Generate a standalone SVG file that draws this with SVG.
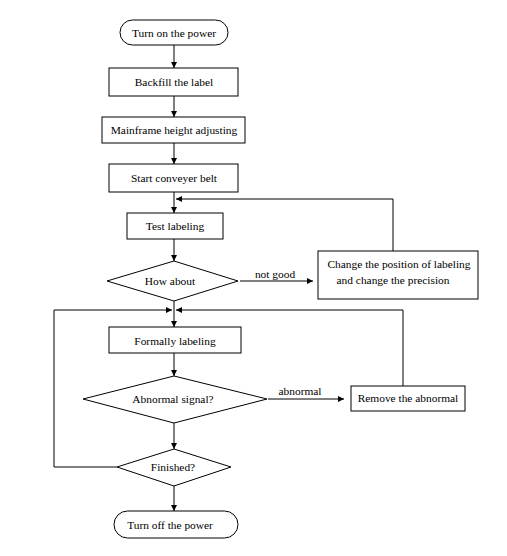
<svg xmlns="http://www.w3.org/2000/svg" width="507" height="556" viewBox="0 0 507 556">
<style>
.s{fill:#fff;stroke:#000;stroke-width:1}
.t{font-family:"Liberation Serif","Times New Roman",serif;font-size:11.4px;fill:#000;text-anchor:middle}
.c{fill:none;stroke:#000;stroke-width:1}
</style>
<defs>
<marker id="a" viewBox="0 0 10 10" refX="10" refY="5" markerWidth="8" markerHeight="6" markerUnits="userSpaceOnUse" orient="auto">
<path d="M0,0 L10,5 L0,10 z" fill="#000"/>
</marker>
</defs>
<rect width="507" height="556" fill="#fff"/>
<g id="connectors">
<path class="c" d="M174,45 V68" marker-end="url(#a)"/>
<path class="c" d="M174,96 V117" marker-end="url(#a)"/>
<path class="c" d="M174,143 V164" marker-end="url(#a)"/>
<path class="c" d="M174,192 V213" marker-end="url(#a)"/>
<path class="c" d="M174,239 V261" marker-end="url(#a)"/>
<path class="c" d="M240,281 H313" marker-end="url(#a)"/>
<path class="c" d="M393,251 V199 H176" marker-end="url(#a)"/>
<path class="c" d="M174,301 V327" marker-end="url(#a)"/>
<path class="c" d="M117,467 H54 V310 H172" marker-end="url(#a)"/>
<path class="c" d="M403,386 V310 H176" marker-end="url(#a)"/>
<path class="c" d="M174,353 V376" marker-end="url(#a)"/>
<path class="c" d="M268,399 H344" marker-end="url(#a)"/>
<path class="c" d="M174,423 V449" marker-end="url(#a)"/>
<path class="c" d="M174,486 V511" marker-end="url(#a)"/>
<text class="t" x="275" y="278">not good</text>
<text class="t" x="300" y="395">abnormal</text>
</g>
<g id="start">
<rect class="s" x="120" y="20" width="108" height="25" rx="12.5"/>
<text class="t" x="174" y="37">Turn on the power</text>
</g>
<g id="backfill">
<rect class="s" x="109" y="68" width="129" height="28"/>
<text class="t" x="174" y="86">Backfill the label</text>
</g>
<g id="mainframe">
<rect class="s" x="102" y="117" width="143" height="26"/>
<text class="t" x="174" y="134">Mainframe height adjusting</text>
</g>
<g id="conveyer">
<rect class="s" x="109" y="164" width="129" height="28"/>
<text class="t" x="174" y="182">Start conveyer belt</text>
</g>
<g id="test">
<rect class="s" x="127" y="213" width="96" height="26"/>
<text class="t" x="175" y="230">Test labeling</text>
</g>
<g id="howabout">
<polygon class="s" points="174,261 238,281 174,301 107,281"/>
<text class="t" x="170" y="285">How about</text>
</g>
<g id="change">
<rect class="s" x="318" y="251" width="160" height="48"/>
<text class="t" x="399" y="268">Change the position of labeling</text>
<text class="t" x="393" y="284">and change the precision</text>
</g>
<g id="formally">
<rect class="s" x="109" y="327" width="132" height="26"/>
<text class="t" x="175" y="345">Formally labeling</text>
</g>
<g id="abnormal">
<polygon class="s" points="174,376 267,399 174,423 83,399"/>
<text class="t" x="173" y="403">Abnormal signal?</text>
</g>
<g id="remove">
<rect class="s" x="351" y="386" width="114" height="25"/>
<text class="t" x="408" y="402">Remove the abnormal</text>
</g>
<g id="finished">
<polygon class="s" points="174,449 231,467 174,486 117,467"/>
<text class="t" x="173" y="471">Finished?</text>
</g>
<g id="end">
<rect class="s" x="114" y="511" width="124" height="27" rx="13.5"/>
<text class="t" x="170" y="529">Turn off the power</text>
</g>
</svg>
